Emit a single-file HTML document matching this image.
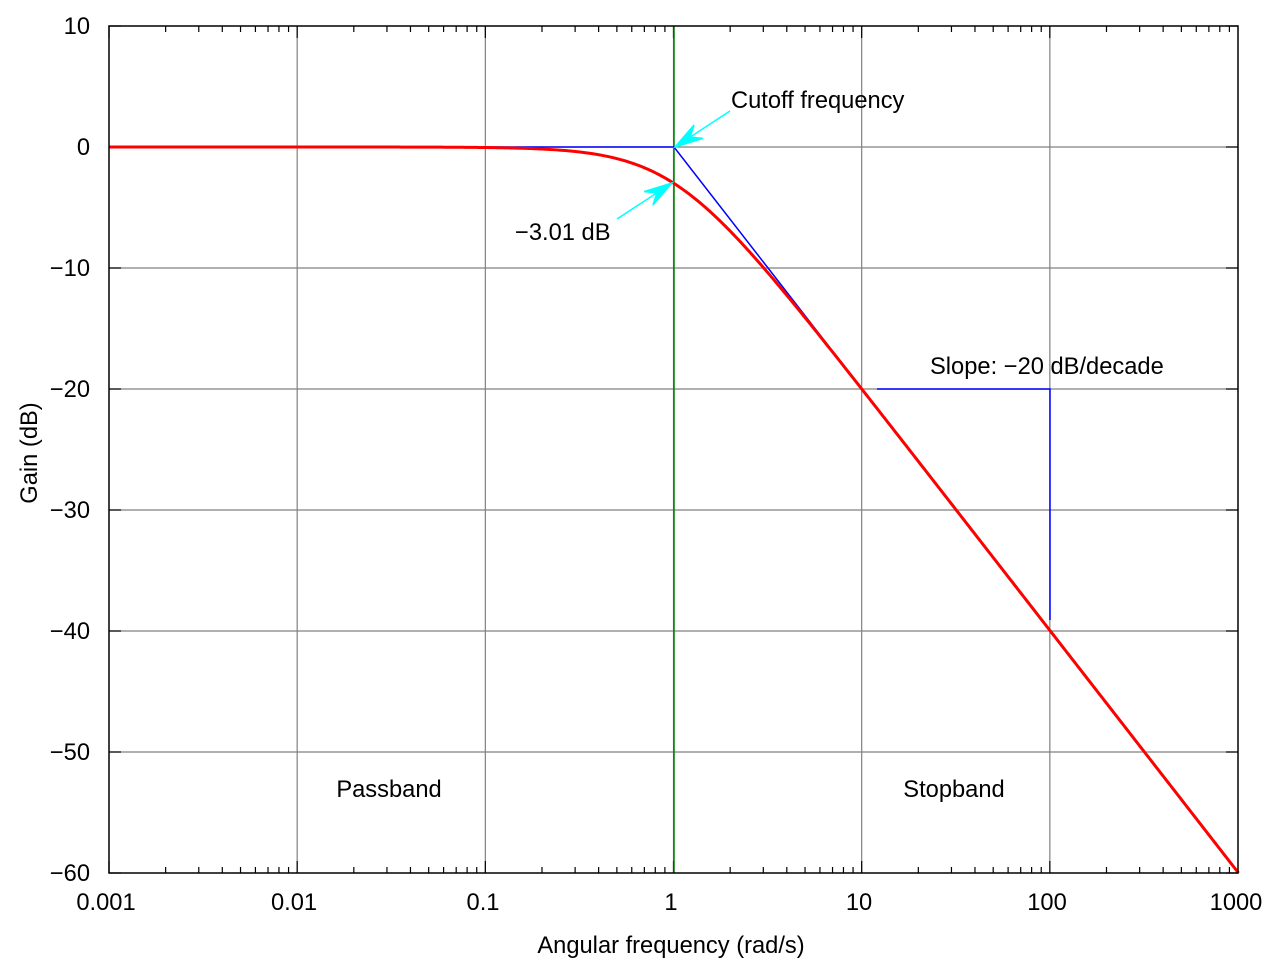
<!DOCTYPE html>
<html><head><meta charset="utf-8"><style>
html,body{margin:0;padding:0;background:#fff;}
svg{display:block;font-family:"Liberation Sans",Arial,sans-serif;font-size:23.7px;}
</style></head><body>
<svg id="s" width="1280" height="960" viewBox="0 0 1280 960" xmlns="http://www.w3.org/2000/svg">
<rect width="1280" height="960" fill="#fff"/>
<g id="grid" stroke="#808080" stroke-width="1.2" fill="none"></g>
<g id="ticks" stroke="#000" stroke-width="1.2" fill="none"></g>
<line x1="674" y1="26" x2="674" y2="873" stroke="#008000" stroke-width="1.5"/>
<polyline points="109,147 674,147 862,389" fill="none" stroke="#0000ff" stroke-width="1.5"/>
<polyline points="877,389 1050,389 1050,620" fill="none" stroke="#0000ff" stroke-width="1.5"/>
<path id="red" d="" fill="none" stroke="#ff0000" stroke-width="3"/>
<g id="arr" stroke="#00ffff" stroke-width="1.5" fill="#00ffff"></g>
<rect x="109" y="26" width="1129" height="847" fill="none" stroke="#000" stroke-width="1.5"/>
<g fill="#000" text-anchor="end">
<text x="90" y="34">10</text><text x="90" y="155">0</text><text x="90" y="276">−10</text><text x="90" y="397">−20</text>
<text x="90" y="518">−30</text><text x="90" y="639">−40</text><text x="90" y="760">−50</text><text x="90" y="881">−60</text>
</g>
<g fill="#000" text-anchor="middle">
<text x="106" y="910">0.001</text><text x="294" y="910">0.01</text><text x="483" y="910">0.1</text><text x="671" y="910">1</text>
<text x="859" y="910">10</text><text x="1047" y="910">100</text><text x="1236" y="910">1000</text>
<text x="671" y="953">Angular frequency (rad/s)</text>
<text transform="translate(37,453) rotate(-90)">Gain (dB)</text>
<text x="389" y="797">Passband</text><text x="954" y="797">Stopband</text>
</g>
<text x="731" y="108" fill="#000">Cutoff frequency</text>
<text x="515" y="240" fill="#000">−3.01 dB</text>
<text x="930" y="374" fill="#000">Slope: −20 dB/decade</text>
<script>
var g=document.getElementById('grid'),t=document.getElementById('ticks'),ns="http://www.w3.org/2000/svg";
function L(p,x1,y1,x2,y2){var l=document.createElementNS(ns,'line');l.setAttribute('x1',x1);l.setAttribute('y1',y1);l.setAttribute('x2',x2);l.setAttribute('y2',y2);p.appendChild(l);return l;}
var D=188.17;
for(var d=0;d<6;d++){var x0=109+d*D;
 if(d>0){L(g,x0,26,x0,873);}
 L(t,x0,873,x0,861);L(t,x0,26,x0,38);
 for(var k=2;k<10;k++){var x=x0+Math.log10(k)*D;L(t,x,873,x,867);L(t,x,26,x,32);}}
for(var i=0;i<8;i++){var y=26+i*121;if(i>0&&i<7)L(g,109,y,1238,y);L(t,109,y,121,y);L(t,1238,y,1226,y);}
var p="";for(var l=-3;l<=3.0001;l+=0.01){var w=Math.pow(10,l);var gg=-10*Math.log10(1+w*w);p+=(p?"L":"M")+(674+l*D).toFixed(2)+","+(147-gg*12.1).toFixed(2);}
document.getElementById('red').setAttribute('d',p);
var a=document.getElementById('arr');
function arrow(x1,y1,x2,y2){L(a,x1,y1,x2,y2);var dx=x2-x1,dy=y2-y1,n=Math.hypot(dx,dy);dx/=n;dy/=n;var px=-dy,py=dx,h=28,w=8,b=18;
 var pg=document.createElementNS(ns,'polygon');
 pg.setAttribute('points',[x2+','+y2,(x2-dx*h+px*w)+','+(y2-dy*h+py*w),(x2-dx*b)+','+(y2-dy*b),(x2-dx*h-px*w)+','+(y2-dy*h-py*w)].join(' '));a.appendChild(pg);}
arrow(730,111,675,147);arrow(617,219,672,183);
</script>
</svg>
</body></html>
